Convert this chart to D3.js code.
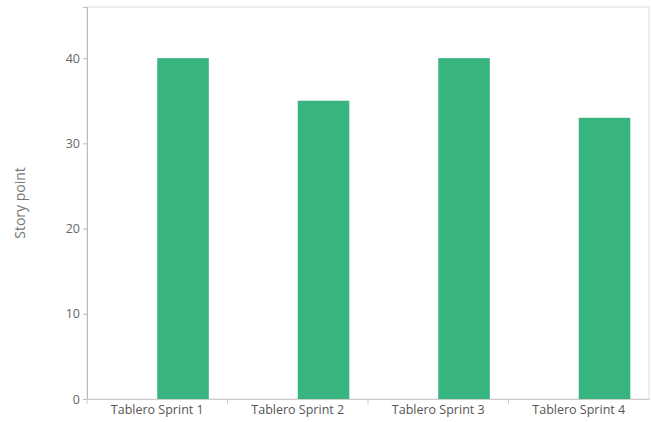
<!DOCTYPE html>
<html lang="en">
  <head>
    <meta charset="UTF-8" />
    <title>Story points por sprint</title>
    <style>
      body { margin: 0; background: #fff; }
      text { font-family: "Open Sans", "Noto Sans", sans-serif; }
    </style>
  </head>
  <body>
    <script src="https://d3js.org/d3.v7.min.js"></script>
    <script>
      const width = 652
      const height = 422
      const margin = { top: 7, right: 3, bottom: 23, left: 87 }

      // datos
      const categories = ["Tablero Sprint 1", "Tablero Sprint 2", "Tablero Sprint 3", "Tablero Sprint 4"]
      const storyPoints = [40, 35, 40, 33]
      const yTicks = [0, 10, 20, 30, 40]

      const svg = d3.select("body").append("svg")
        .attr("width", width)
        .attr("height", height)

      const x = d3.scaleBand()
        .domain(categories)
        .range([margin.left, width - margin.right])
        .padding(0)

      const y = d3.scaleLinear()
        .domain([0, 46])
        .range([height - margin.bottom, margin.top])

      // marco del área de trazado
      svg.append("rect")
        .attr("x", margin.left)
        .attr("y", margin.top)
        .attr("width", width - margin.left - margin.right)
        .attr("height", height - margin.top - margin.bottom)
        .attr("fill", "none")
        .attr("stroke", "#ddd")

      // barras (ocupan la mitad derecha de cada categoría)
      svg.selectAll("rect.bar")
        .data(storyPoints)
        .enter()
        .append("rect")
        .attr("class", "bar")
        .attr("x", (d, i) => x(categories[i]) + x.bandwidth() * 0.5)
        .attr("y", d => y(d))
        .attr("width", x.bandwidth() * 0.367)
        .attr("height", d => y(0) - y(d))
        .attr("fill", "#38b47f")

      // eje y
      const yAxis = svg.append("g")
        .attr("transform", `translate(${margin.left},0)`)
        .call(d3.axisLeft(y).tickValues(yTicks).tickSize(4).tickPadding(3))
      yAxis.select(".domain").attr("stroke", "#bbb")
      yAxis.selectAll(".tick line").attr("stroke", "#bbb")
      yAxis.selectAll(".tick text")
        .attr("fill", "#666")
        .style("font-size", "12.5px")

      // eje x
      const xAxis = svg.append("g")
        .attr("transform", `translate(0,${height - margin.bottom})`)
        .call(d3.axisBottom(x).tickSize(0).tickPadding(6))
      xAxis.select(".domain").attr("stroke", "#ccc")
      xAxis.selectAll(".tick text")
        .attr("fill", "#555")
        .style("font-size", "12.5px")

      // marcas entre categorías
      svg.append("g")
        .selectAll("line")
        .data(categories)
        .enter()
        .append("line")
        .attr("x1", d => x(d))
        .attr("x2", d => x(d))
        .attr("y1", height - margin.bottom)
        .attr("y2", height - margin.bottom + 5)
        .attr("stroke", "#ccc")

      // título del eje y
      svg.append("text")
        .attr("transform", "translate(25,203) rotate(-90)")
        .attr("text-anchor", "middle")
        .attr("fill", "#777")
        .style("font-size", "14px")
        .text("Story point")
    </script>
  </body>
</html>
